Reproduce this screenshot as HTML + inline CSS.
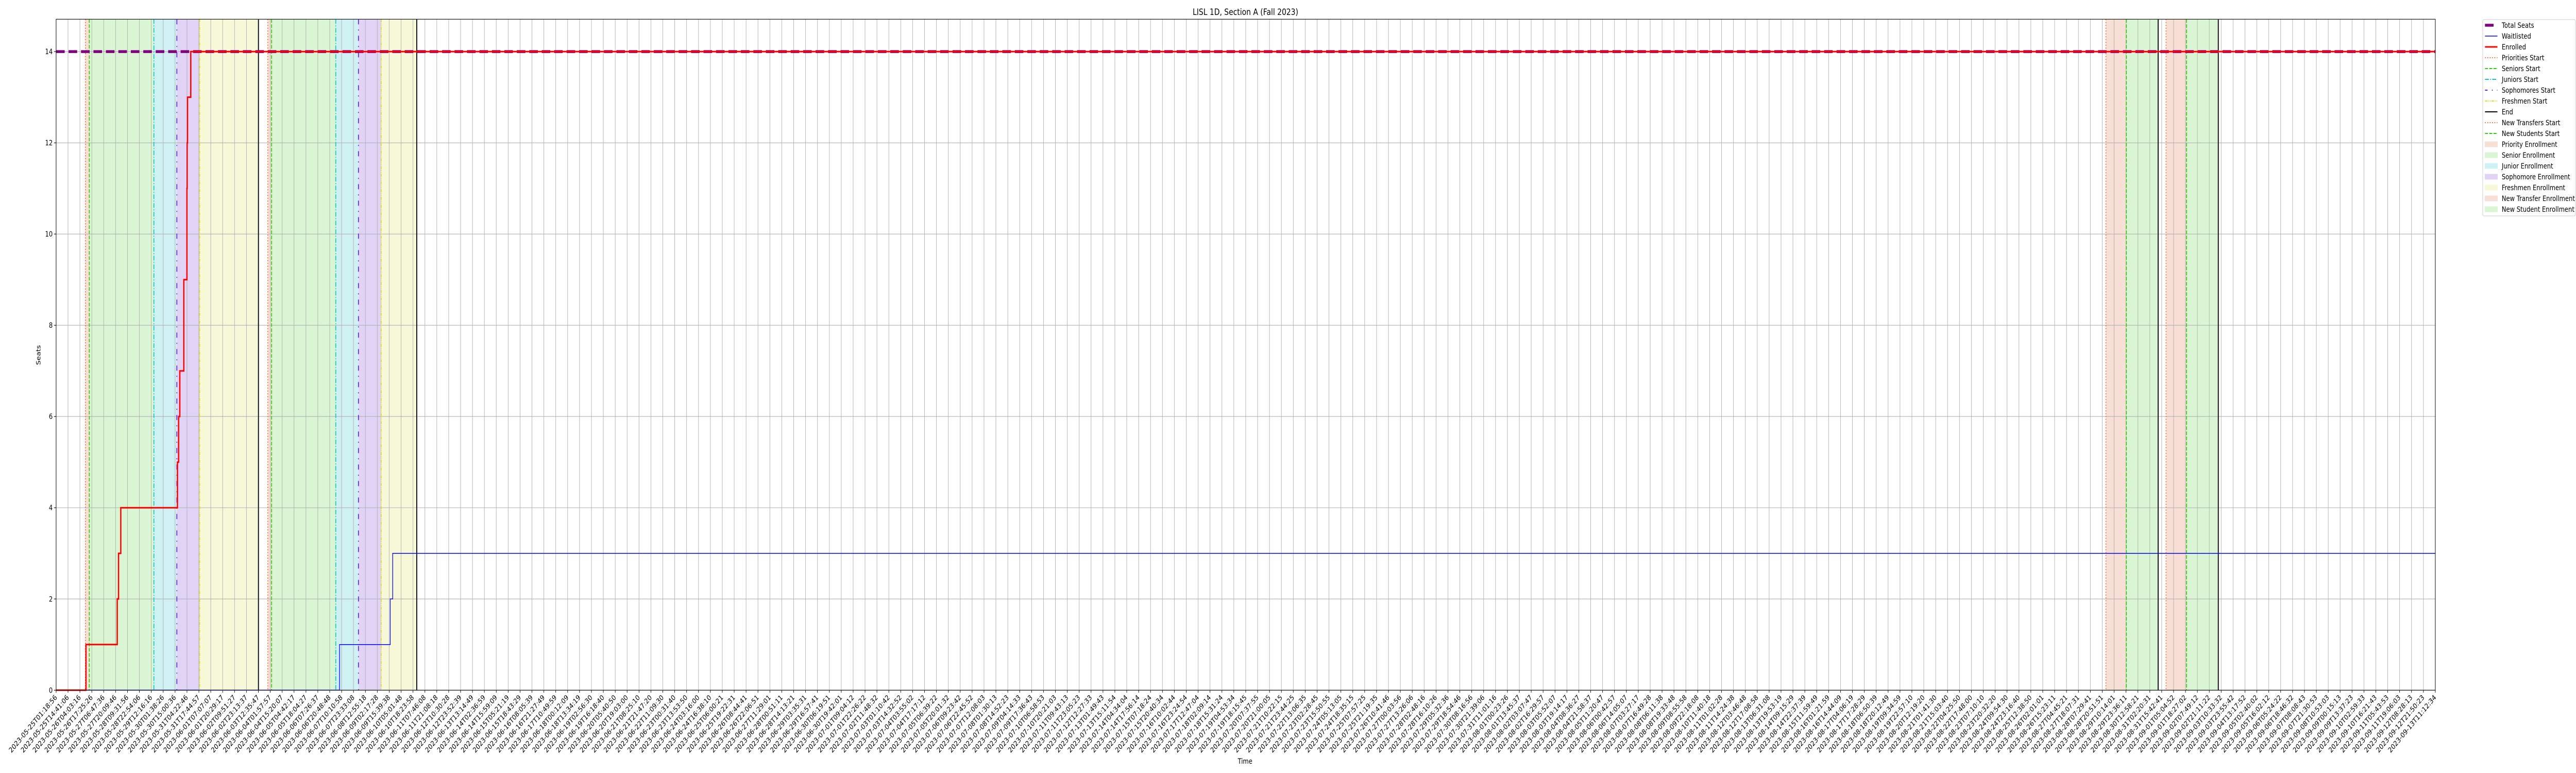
<!DOCTYPE html>
<html><head><meta charset="utf-8"><style>
html,body{margin:0;padding:0;background:#fff;width:100%;height:100%;overflow:hidden;}
svg{display:block;font-family:"DejaVu Sans","Liberation Sans",sans-serif;overflow:hidden;width:100vw;height:100vh;}
</style></head><body>
<svg id="chart" viewBox="0 0 6000 1500" preserveAspectRatio="none" xmlns="http://www.w3.org/2000/svg">
<text x="2901" y="29" font-size="16.7" text-anchor="middle">LISL 1D, Section A (Fall 2023)</text>
<text x="2900" y="1482" font-size="13.9" text-anchor="middle">Time</text>
<text x="0" y="0" font-size="13.9" text-anchor="middle" transform="translate(94,689) rotate(-90)">Seats</text>
<g id="plot"></g>
<g id="legend"></g>
</svg>
<script>
// ---- data ----
const domainStart = "2023-05-25T01:18:56";
const domainEnd = "2023-09-13T11:12:34";
const tickCount = 201;
const yTicks = [0, 2, 4, 6, 8, 10, 12, 14];
const totalSeats = 14;
const enrolledTimes = ["2023-05-25T01:18:56","2023-05-26T10:50:00","2023-05-27T22:00:00","2023-05-27T23:30:00","2023-05-28T02:00:00","2023-05-30T17:40:00","2023-05-30T19:00:00","2023-05-30T20:20:00","2023-05-31T00:50:00","2023-05-31T04:20:00","2023-05-31T04:35:00","2023-05-31T05:00:00","2023-05-31T08:40:00","2023-09-13T11:12:34"];
const enrolledValues = [0,1,2,3,4,5,6,7,9,11,12,13,14,14];
const waitTimes = ["2023-05-25T01:18:56","2023-06-07T07:50:00","2023-06-09T16:50:00","2023-06-09T19:35:00","2023-09-13T11:12:34"];
const waitValues = [0,1,2,3,3];
const bandStarts = ["2023-05-26T10:16:00","2023-05-26T14:37:00","2023-05-29T15:11:00","2023-05-30T17:01:00","2023-05-31T18:37:00",
  "2023-06-03T23:13:00","2023-06-04T03:31:00","2023-06-07T03:36:00","2023-06-08T05:07:00","2023-06-09T06:43:00",
  "2023-08-29T01:01:00","2023-08-30T00:01:00","2023-08-31T20:37:00","2023-09-01T19:37:00"];
const bandEnds = ["2023-05-26T14:37:00","2023-05-29T15:11:00","2023-05-30T17:01:00","2023-05-31T18:37:00","2023-06-03T12:43:00",
  "2023-06-04T03:31:00","2023-06-07T03:36:00","2023-06-08T05:07:00","2023-06-09T06:43:00","2023-06-10T22:37:00",
  "2023-08-30T00:01:00","2023-08-31T11:43:00","2023-09-01T19:37:00","2023-09-03T07:19:00"];
const bandKinds = ["priority","senior","junior","sophomore","freshmen","priority","senior","junior","sophomore","freshmen","transfer","newstudent","transfer","newstudent"];
const endTimes = ["2023-06-03T12:43:00","2023-06-10T22:37:00","2023-08-31T11:43:00","2023-09-03T07:19:00"];

// ---- styles ----
const bandFill = {priority:"#f7dfd5",senior:"#daf5d3",junior:"#d0f1f3",sophomore:"#e0d3f5",freshmen:"#f7f8d8",transfer:"#f7dfd5",newstudent:"#daf5d3"};
const startLine = {priority:["#ee6a2c","2,3.5"],senior:["#33cc11","7,3"],junior:["#11c5cc","9,3,2,3"],sophomore:["#6622dd","10,10,2,10"],freshmen:["#dddd22","6,2,1.5,2,1.5,2"],transfer:["#ee6a2c","2,3.5"],newstudent:["#33cc11","7,3"]};

const NS="http://www.w3.org/2000/svg";
const L=130.7,R=5672.3,T=37.3,B=1339.3,yMax=14.71;
const t0=Date.parse(domainStart+"Z"), t1=Date.parse(domainEnd+"Z");
const xs=s=>L+(Date.parse(s+"Z")-t0)/(t1-t0)*(R-L);
const xt=t=>L+(t-t0)/(t1-t0)*(R-L);
const ys=v=>B-v/yMax*(B-T);
function mk(tag,attrs,parent){const e=document.createElementNS(NS,tag);for(const k in attrs)e.setAttribute(k,attrs[k]);parent.appendChild(e);return e;}
const plot=document.getElementById('plot');

// bands
const gB=mk('g',{},plot);


bandStarts.forEach((s,i)=>{
  const r=mk('rect',{x:xs(s),y:T,width:xs(bandEnds[i])-xs(s),height:B-T,fill:bandFill[bandKinds[i]]},gB);
  
  
});
// grid
const gG=mk('g',{stroke:"#b0b0b0","stroke-width":1.1},plot);


const tickTimes=[];
for(let i=0;i<tickCount;i++)tickTimes.push(t0+(t1-t0)*i/(tickCount-1));
tickTimes.forEach(t=>{const x=xt(t);mk('line',{x1:x,x2:x,y1:T,y2:B},gG);});
yTicks.forEach(v=>{mk('line',{x1:L,x2:R,y1:ys(v),y2:ys(v)},gG);});
// start lines
const gS=mk('g',{},plot);


bandStarts.forEach((s,i)=>{
  const st=startLine[bandKinds[i]];const x=xs(s);
  const l=mk('line',{x1:x,x2:x,y1:T,y2:B,stroke:st[0],"stroke-width":2,"stroke-dasharray":st[1]},gS);
  
  
});
endTimes.forEach(s=>{
  const x=xs(s);
  const l=mk('line',{x1:x,x2:x,y1:T,y2:B,stroke:"#000","stroke-width":2.2},gS);
  
  
});
// series
function stepPath(times,vals){let d="";times.forEach((s,i)=>{const x=xs(s),y=ys(vals[i]);if(i===0)d+="M"+x+","+y;else d+="H"+x+"V"+y;});return d;}
const ts=mk('line',{x1:L,x2:R,y1:ys(totalSeats),y2:ys(totalSeats),stroke:"#800080","stroke-width":5.5,"stroke-dasharray":"20,9"},plot);


const wl=mk('path',{d:stepPath(waitTimes,waitValues),fill:"none",stroke:"#0000ff","stroke-width":1.5},plot);


const en=mk('path',{d:stepPath(enrolledTimes,enrolledValues),fill:"none",stroke:"#ff0000","stroke-width":3},plot);


// axes frame
const fr=mk('rect',{x:L,y:T,width:R-L,height:B-T,fill:"none",stroke:"#000","stroke-width":1.1},plot);


// x ticks
const gX=mk('g',{},plot);


const p2=n=>String(n).padStart(2,'0');
function fmt(t){const d=new Date(t);return d.getUTCFullYear()+"-"+p2(d.getUTCMonth()+1)+"-"+p2(d.getUTCDate())+"T"+p2(d.getUTCHours())+":"+p2(d.getUTCMinutes())+":"+p2(d.getUTCSeconds());}
tickTimes.forEach(t=>{
  const x=xt(t);
  mk('line',{x1:x,x2:x,y1:B,y2:B+4.9,stroke:"#000","stroke-width":1.1},gX);
  const tx=mk('text',{x:0,y:0,"font-size":13.9,"text-anchor":"end",transform:"translate("+(x+3)+","+(B+15)+") rotate(-45)"},gX);
  
  
  tx.textContent=fmt(t);
});
// y ticks
const gY=mk('g',{},plot);


yTicks.forEach(v=>{
  const y=ys(v);
  mk('line',{x1:L-4.9,x2:L,y1:y,y2:y,stroke:"#000","stroke-width":1.1},gY);
  const tx=mk('text',{x:L-8,y:y+5,"font-size":13.9,"text-anchor":"end"},gY);
  
  
  tx.textContent=v;
});
// legend
const leg=document.getElementById('legend');
mk('rect',{x:5782.7,y:38,width:216,height:381,rx:3,fill:"#fff",stroke:"#cccccc","stroke-width":1.1},leg);
const items=[
 ["Total Seats","line","#800080",5.5,"20,9"],["Waitlisted","line","#0000ff",1.5,""],["Enrolled","line","#ff0000",3,""],
 ["Priorities Start","line","#ee6a2c",2,"2,3.5"],["Seniors Start","line","#33cc11",2,"7,3"],["Juniors Start","line","#11c5cc",2,"9,3,2,3"],
 ["Sophomores Start","line","#6622dd",2,"6,10,2,10"],["Freshmen Start","line","#dddd22",2,"6,2,1.5,2,1.5,2"],["End","line","#000",2,""],
 ["New Transfers Start","line","#ee6a2c",2,"2,3.5"],["New Students Start","line","#33cc11",2,"7,3"],
 ["Priority Enrollment","patch","#f7dfd5"],["Senior Enrollment","patch","#daf5d3"],["Junior Enrollment","patch","#d0f1f3"],
 ["Sophomore Enrollment","patch","#e0d3f5"],["Freshmen Enrollment","patch","#f7f8d8"],["New Transfer Enrollment","patch","#f7dfd5"],["New Student Enrollment","patch","#daf5d3"]];
items.forEach((it,i)=>{
  const y=49+i*21;
  const g=mk('g',{},leg);
  
  
  if(it[1]==="line"){const a={x1:5788,x2:5817,y1:y,y2:y,stroke:it[2],"stroke-width":it[3]};if(it[4])a["stroke-dasharray"]=it[4];mk('line',a,g);}
  else mk('rect',{x:5788,y:y-5,width:29,height:10,fill:it[2],stroke:it[2]},g);
  const tx=mk('text',{x:5827,y:y+5,"font-size":13.9},g);
  tx.textContent=it[0];
});
</script>
</body></html>
